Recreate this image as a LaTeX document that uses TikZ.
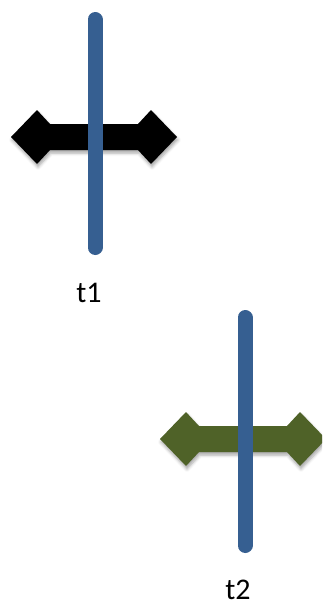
\documentclass[tikz,border=0pt]{standalone}
\usepackage{fontspec}
\setmainfont{Carlito}
\usetikzlibrary{shadows.blur}
\definecolor{barblue}{HTML}{365F91}
\definecolor{moss}{HTML}{4F6228}
\tikzset{
  bar/.style={draw=barblue, line width=15pt, line cap=round},
  twoway/.style={fill=#1, blur shadow={shadow xshift=1pt, shadow yshift=-3pt,
      shadow blur radius=3pt, shadow opacity=35}},
  tlabel/.style={font=\fontsize{30}{36}\selectfont, inner sep=0pt},
}
% double headed block arrow, centred on the current origin
\newcommand{\twowaypath}{(-83,0) -- (-57,-27) -- (-44,-13) -- (44,-13) -- (57,-27)
  -- (83,0) -- (57,27) -- (44,13) -- (-44,13) -- (-57,27) -- cycle}

\begin{document}
\begin{tikzpicture}[x=1pt, y=-1pt]
  \useasboundingbox (0,0) rectangle (322,600);
  \clip (0,0) rectangle (322,600);

  % first time step
  \begin{scope}[shift={(94,137)}]
    \path[twoway=black] \twowaypath;
  \end{scope}
  \coordinate (top1) at (95,19.5);
  \coordinate (bot1) at (95,247.5);
  \draw[bar] (top1) -- (bot1);
  \node[tlabel] (t1) at (89,293) {t1};

  % second time step
  \begin{scope}[shift={(243,439)}]
    \path[twoway=moss] \twowaypath;
  \end{scope}
  \coordinate (top2) at (245,317.5);
  \coordinate (bot2) at (245,545.5);
  \draw[bar] (top2) -- (bot2);
  \node[tlabel] (t2) at (238,590) {t2};
\end{tikzpicture}
\end{document}
